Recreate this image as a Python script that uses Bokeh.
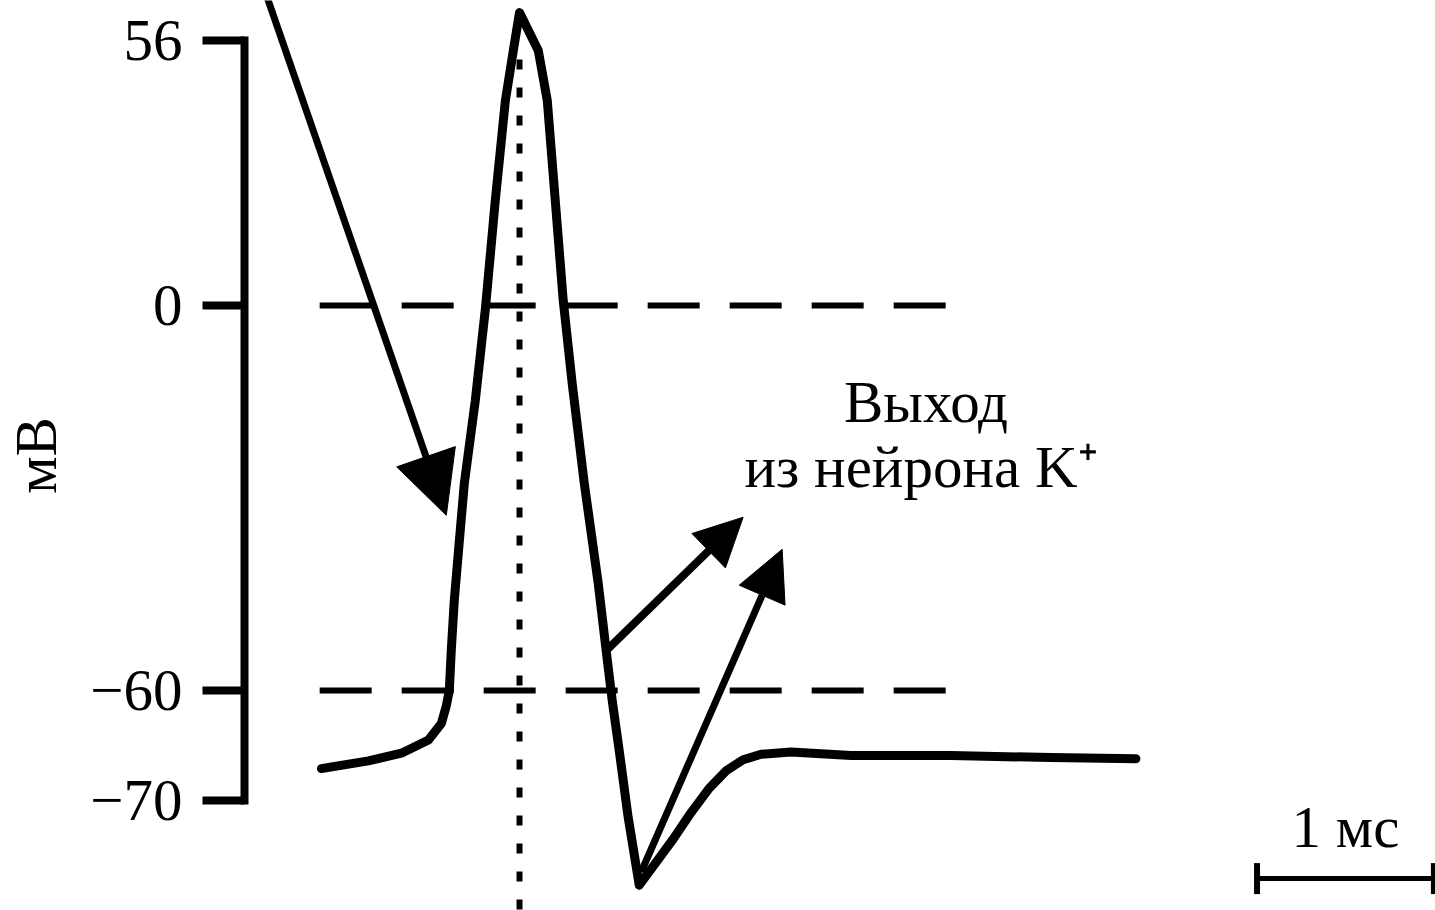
import numpy as np
from bokeh.plotting import figure
from bokeh.models import Range1d, FixedTicker, Arrow, NormalHead
from bokeh.core.properties import value
from bokeh.embed import file_html
from bokeh.resources import INLINE

# ---- membrane potential trace: time (ms) and potential (mV) ----
time_ms = [0.000, 0.266, 0.452, 0.605, 0.678, 0.706, 0.723, 0.734, 0.751, 0.780,
           0.808, 0.870, 0.927, 0.983, 1.040, 1.085, 1.120, 1.226, 1.277, 1.322,
           1.367, 1.418, 1.486, 1.565, 1.610, 1.644, 1.684, 1.734, 1.797, 1.893,
           1.989, 2.090, 2.192, 2.288, 2.384, 2.486, 2.655, 2.994, 3.559, 4.124,
           4.605]
potential_mv = [-67.1, -66.4, -65.7, -64.5, -63.0, -61.4, -60.0, -53.8, -46.0, -36.6,
                -27.7, -14.8, -0.5, 22.2, 43.3, 53.9, 61.9, 53.9, 43.3, 22.2,
                1.1, -12.2, -27.7, -43.3, -53.8, -60.9, -65.5, -71.5, -77.7, -75.6,
                -73.5, -71.1, -68.9, -67.3, -66.3, -65.8, -65.6, -65.9, -65.9, -66.1,
                -66.2]

# ---- potential axis ticks ----
tick_mv = [56, 0, -60, -70]
tick_labels = ["56", "0", "\u221260", "\u221270"]

# ---- dashed reference levels (zero and threshold) ----
ref_levels_mv = [0, -60]
ref_span_ms = [-0.01, 3.56]

# ---- annotation arrows: (t0, v0) -> (t1, v1) ----
arrow_t0 = [-0.34, 1.62, 1.808]
arrow_v0 = [68.7, -53.5, -76.5]
arrow_t1 = [0.706, 2.384, 2.605]
arrow_v1 = [-32.7, -33.0, -38.0]

# ---- labels ----
label_t = [3.418, 3.39]
label_v = [-15.1, -25.2]
label_text = ["Выход", "из нейрона K\u207a"]

# ---- time scale bar ----
scalebar_ms = 1.0
scalebar_t0 = 5.29
scalebar_v = -77.1
scalebar_label_v = -72.4
scalebar_text = "1 мс"

# schematic (piecewise-linear) potential scale
scale_mv = [-70, -60, 0, 56]
scale_u = [0.0, 11.0, 49.5, 76.0]


def to_axis(mv):
    mv = np.asarray(mv, dtype=float)
    u = np.interp(mv, scale_mv, scale_u)
    lo = (scale_u[1] - scale_u[0]) / (scale_mv[1] - scale_mv[0])
    hi = (scale_u[-1] - scale_u[-2]) / (scale_mv[-1] - scale_mv[-2])
    u = np.where(mv < scale_mv[0], scale_u[0] + (mv - scale_mv[0]) * lo, u)
    u = np.where(mv > scale_mv[-1], scale_u[-1] + (mv - scale_mv[-1]) * hi, u)
    return u


SERIF = "Liberation Serif"
FS = "59px"

p = figure(width=1435, height=910, output_backend="svg", toolbar_location=None,
           x_range=Range1d(-0.435, 6.299), y_range=Range1d(-11, 80),
           x_axis_location=None, y_axis_location="left",
           min_border_left=243, min_border_right=0, min_border_top=0, min_border_bottom=0,
           outline_line_color=None, background_fill_color="white",
           border_fill_color="white")
p.grid.visible = False

# potential axis
ax = p.yaxis[0]
tick_u = [float(u) for u in to_axis(tick_mv)]
ax.ticker = FixedTicker(ticks=tick_u)
ax.major_label_overrides = {u: lbl for u, lbl in zip(tick_u, tick_labels)}
ax.bounds = (min(tick_u), max(tick_u))
ax.axis_line_width = 8
ax.axis_line_cap = "square"
ax.major_tick_line_width = 8
ax.major_tick_in = 0
ax.major_tick_out = 42
ax.minor_tick_line_color = None
ax.major_label_standoff = 20
ax.major_label_text_font = SERIF
ax.major_label_text_font_size = FS
ax.major_label_text_color = "black"
ax.axis_label = "мВ"
ax.axis_label_text_font = SERIF
ax.axis_label_text_font_size = FS
ax.axis_label_text_font_style = "normal"
ax.axis_label_text_color = "black"
ax.axis_label_standoff = 18

# dashed reference levels
for lvl in ref_levels_mv:
    p.line(x=ref_span_ms, y=to_axis([lvl, lvl]), line_color="black",
           line_width=6, line_dash="52 30")

# dotted marker at the time of the peak
t_peak = time_ms[int(np.argmax(potential_mv))]
p.line(x=[t_peak, t_peak], y=to_axis([52, -95]), line_color="black",
       line_width=6, line_dash="10 18")

# action potential trace
p.line(x=time_ms, y=to_axis(potential_mv), line_color="black", line_width=9,
       line_join="round", line_cap="round")

# arrows
head_sizes = [62, 48, 50]
shaft_widths = [7, 8, 7]
ys0 = to_axis(arrow_v0)
ys1 = to_axis(arrow_v1)
for i in range(len(arrow_t0)):
    p.add_layout(Arrow(x_start=arrow_t0[i], y_start=float(ys0[i]),
                       x_end=arrow_t1[i], y_end=float(ys1[i]),
                       line_width=shaft_widths[i], line_color="black",
                       end=NormalHead(size=head_sizes[i], fill_color="black",
                                      line_color="black", line_width=1)))

# labels
p.text(x=label_t, y=to_axis(label_v), text=label_text,
       text_font=value(SERIF), text_font_size=FS, text_color="black",
       text_align="center", text_baseline="middle")

# time scale bar
bar_x = [scalebar_t0, scalebar_t0 + scalebar_ms]
bar_y = to_axis([scalebar_v, scalebar_v])
p.line(x=bar_x, y=bar_y, line_color="black", line_width=5)
p.scatter(x=bar_x, y=bar_y, marker="dash", size=31, angle=np.pi / 2,
          line_color="black", line_width=6)
p.text(x=[scalebar_t0 + scalebar_ms / 2], y=to_axis([scalebar_label_v]), text=[scalebar_text],
       text_font=value(SERIF), text_font_size=FS, text_color="black",
       text_align="center", text_baseline="middle")

open("out.html", "w").write(file_html(p, INLINE))
